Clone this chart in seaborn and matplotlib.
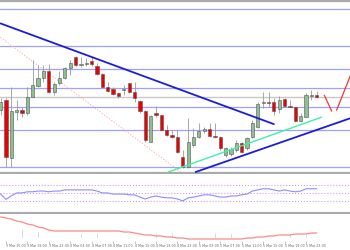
import matplotlib
matplotlib.use("Agg")
import matplotlib.pyplot as plt
import numpy as np
import seaborn as sns

# ---- data (chart units) ----
opens = [63,73,15,61,63,60,76,87,95,102, 81,90,95,105,116,108,109,112,107,99,
         86,84,80,83,90,81,72,62,31,60, 58,43,38,36,16,6,28,36,42,44,
         37,36,18,19,23,30,25,36,46,70, 71,71,64,74,67,66,52,56,77,78]
closes = [71,16,62,63,60,76,88,95,102,81, 89,95,105,110,108,109,110,109,99,86,
          82,79,77,84,81,75,62,33,57,58, 43,38,36,21,6,31,36,42,44,37,
          36,25,25,24,30,21,35,50,69,71, 70,62,73,67,66,52,57,78,78,76]
highs = [75,75,86,73,66,86,113,108,108,109, 91,102,106,113,117,116,115,117,110,100,
         91,86,81,88,90,91,73,63,58,67, 58,48,43,43,23,55,45,50,46,50,
         50,37,26,26,33,31,36,53,71,81, 81,75,77,75,73,66,60,80,83,82]
lows = [58,6,6,53,56,58,76,86,91,80, 78,88,94,98,107,106,107,107,98,85,
        81,78,75,78,80,71,60,31,31,56, 42,37,35,20,5,5,26,35,40,36,
        35,23,16,17,21,20,23,35,45,65, 66,58,60,66,66,51,51,56,73,75]

rsi = [47,33,42,50,50,53,53,55,55,53, 55,55,58,58,58,58,58,58,55,50,
       50,47,47,47,45,45,39,34,39,42, 39,37,37,34,29,37,39,42,45,45,
       42,39,39,42,42,45,47,55,58,61, 61,58,55,58,55,53,55,61,61,61]
rsi_levels = [70, 50, 30]

macd_signal = [21,20,19,17,16,14,13,11,10,8, 7,7,7,7,7,7,7,7,7,7,
               7,7,7,6,6,5,4,3,3,2, 2,1,1,0,0,-1,-1,-1,-1,-1,
               -1,-1,-1,-1,-1,-1,0,0,1,1, 2,2,3,3,3,4,4,4,5,5]
macd_hist = [18,16,13,11,9,8,8,7,7,6, 6,5,6,5,6,5,6,5,6,5,
             6,5,6,5,6,5,5,5,5,5, 6,5,6,5,6,5,6,5,6,5,
             6,5,6,5,6,5,5,4,5,4, 5,4,5,4,5,4,5,4,5,4]

blue_levels = [164, 127, 104, 85, 66, 43, 6]
grey_level = 76

down_trend = ([0, 51], [150, 49])
up_trend = ([36.4, 65.3], [1, 55])
green_trend = ([31.3, 59.9], [1, 56])
pink_trend = ([0, 33.6], [136, 1])
proj_down = ([60.4, 61.8], [78, 62])
proj_up = ([62.7, 65.3], [63, 98])

tick_labels = ["3 Mar 15:00", "3 Mar 19:00", "3 Mar 23:00", "4 Mar 03:00",
               "4 Mar 07:00", "4 Mar 11:00", "4 Mar 15:00", "4 Mar 19:00",
               "4 Mar 23:00", "5 Mar 03:00", "5 Mar 07:00", "5 Mar 11:00",
               "5 Mar 15:00", "5 Mar 19:00", "5 Mar 23:00"]

# ---- figure ----
sns.set_style("white")
plt.rcParams['font.family'] = ['DejaVu Sans']
fig = plt.figure(figsize=(3.5, 2.5), dpi=100)
H = 250.0
ax = fig.add_axes([0, (H - 173) / H, 1, 172.5 / H])
ax2 = fig.add_axes([0, (H - 213) / H, 1, 39 / H])
ax3 = fig.add_axes([0, (H - 241) / H, 1, 27 / H])

idx = np.arange(len(opens))
XL = (-0.1, 65.2)

# main panel
for lv in blue_levels:
    ax.axhline(lv, color="#a0a0ff", lw=0.9, zorder=1)
ax.axhline(grey_level, color="#c8c8c8", lw=1.0, zorder=1)

sns.lineplot(x=pink_trend[0], y=pink_trend[1], ax=ax, color="#ffaaaa",
             lw=0.8, linestyle=":", zorder=2)

ax.vlines(idx, lows, highs, color="#9a9a9a", lw=0.6, zorder=3)
o = np.array(opens); c = np.array(closes)
cols = np.where(c >= o, "#8fbf8f", "#ee0000")
ax.bar(idx, c - o, bottom=o, width=0.6, color=cols, edgecolor="#555555",
       linewidth=0.4, zorder=4)

sns.lineplot(x=down_trend[0], y=down_trend[1], ax=ax, color="#1c1cdc", lw=1.3, zorder=5)
sns.lineplot(x=up_trend[0], y=up_trend[1], ax=ax, color="#1c1cdc", lw=1.3, zorder=5)
sns.lineplot(x=green_trend[0], y=green_trend[1], ax=ax, color="#40f0a8", lw=1.0, zorder=5)
sns.lineplot(x=proj_down[0], y=proj_down[1], ax=ax, color="#ff3030", lw=0.9, zorder=5)
sns.lineplot(x=proj_up[0], y=proj_up[1], ax=ax, color="#ff3030", lw=0.9, zorder=5)

ax.set_xlim(*XL)
ax.set_ylim(0, 173)
ax.set_xticks([]); ax.set_yticks([])
for s in ["left", "right"]:
    ax.spines[s].set_visible(False)
for s in ["top", "bottom"]:
    ax.spines[s].set_color("#aaaaaa")
    ax.spines[s].set_linewidth(1.6)

# RSI panel
for lv in rsi_levels:
    ax2.axhline(lv, color="#d699ee", lw=0.8, linestyle=":")
sns.lineplot(x=idx, y=rsi, ax=ax2, color="#8c8cff", lw=0.8)
ax2.set_xlim(*XL)
ax2.set_ylim(-3, 100)
ax2.set_xticks([]); ax2.set_yticks([])
for s in ["left", "right", "top"]:
    ax2.spines[s].set_visible(False)
ax2.spines["bottom"].set_color("#aaaaaa")
ax2.spines["bottom"].set_linewidth(2.2)

# MACD panel
ax3.bar(idx, macd_hist, width=0.22, color="#c4c4c4")
sns.lineplot(x=idx, y=macd_signal, ax=ax3, color="#ff8888", lw=0.9)
ax3.set_xlim(*XL)
ax3.set_ylim(-3, 24)
ax3.set_yticks([])
tick_pos = [1 + 4 * k for k in range(len(tick_labels))]
ax3.set_xticks(tick_pos)
ax3.set_xticklabels(tick_labels, ha="left")
ax3.tick_params(axis="x", length=2, width=0.4, color="#999999",
                labelsize=2.3, labelcolor="#666666", pad=0.5, bottom=True)
for s in ["left", "right", "top", "bottom"]:
    ax3.spines[s].set_visible(False)
for a in (ax, ax2, ax3):
    a.set_xlabel(""); a.set_ylabel("")
    if a.get_legend():
        a.get_legend().remove()

fig.savefig("out.png", dpi=100)
